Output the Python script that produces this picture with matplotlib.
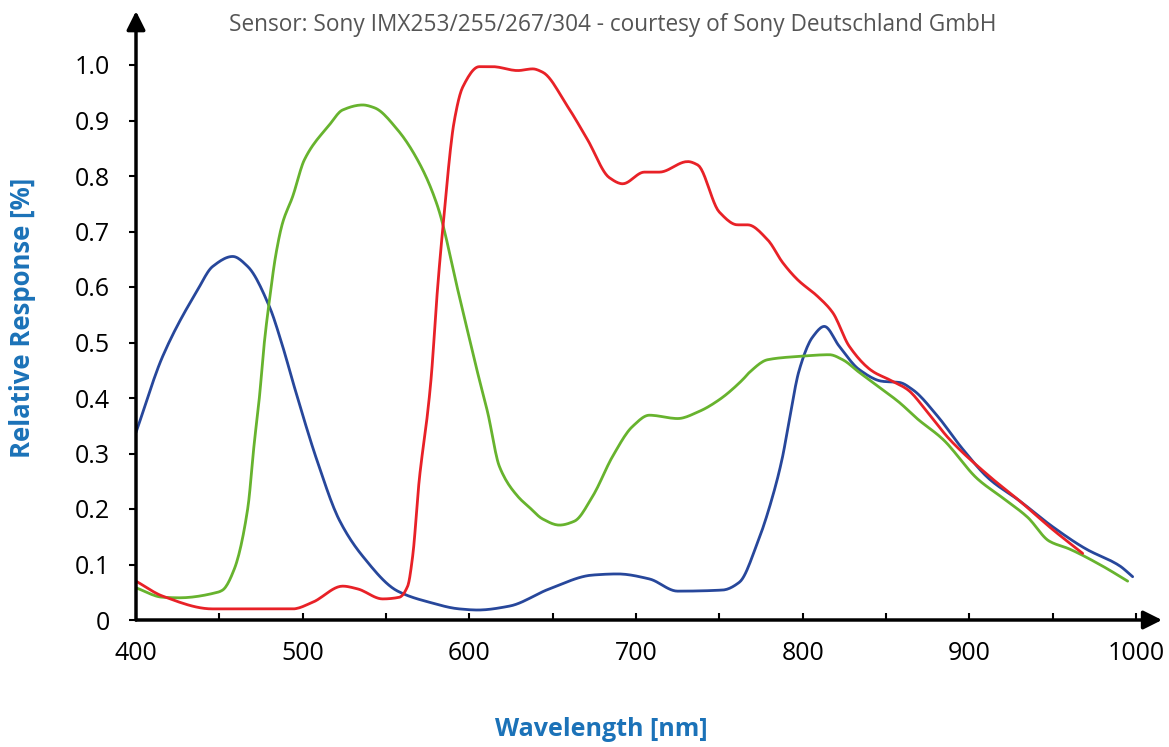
import numpy as np
import matplotlib.pyplot as plt

# wavelength [nm] / relative response
blue_wl = [400, 416, 437, 446, 458, 467, 480, 488, 495, 509, 522, 536, 557, 576, 594,
           605, 624, 648, 674, 689, 708, 725, 752, 762, 773, 782, 788, 791, 798, 806,
           813, 822, 834, 848, 858, 866, 881, 896, 912, 930, 950, 970, 990, 998]
blue_val = [0.338, 0.475, 0.595, 0.637, 0.655, 0.637, 0.565, 0.493, 0.42, 0.284, 0.18, 0.115,
            0.052, 0.032, 0.02, 0.018, 0.025, 0.056, 0.081, 0.083, 0.074, 0.052, 0.054, 0.068,
            0.14, 0.223, 0.295, 0.344, 0.451, 0.51, 0.529, 0.493, 0.451, 0.43, 0.428, 0.415,
            0.367, 0.308, 0.254, 0.215, 0.168, 0.128, 0.098, 0.078]

green_wl = [400, 416, 426, 449, 452, 459, 467, 471, 474, 477, 480, 484, 488, 494, 501, 516,
            524, 536, 543, 557, 570, 581, 594, 606, 611, 618, 629, 636, 644, 654, 663, 674,
            686, 698, 708, 725, 738, 750, 764, 768, 779, 798, 816, 824, 834, 848, 858, 869,
            884, 905, 920, 935, 948, 960, 980, 995]
green_val = [0.058, 0.041, 0.04, 0.05, 0.054, 0.092, 0.2, 0.32, 0.4, 0.5, 0.575, 0.66, 0.716,
             0.763, 0.829, 0.892, 0.919, 0.928, 0.923, 0.883, 0.823, 0.745, 0.583, 0.433,
             0.374, 0.277, 0.223, 0.203, 0.182, 0.171, 0.178, 0.223, 0.295, 0.349, 0.369,
             0.363, 0.376, 0.397, 0.433, 0.446, 0.469, 0.475, 0.478, 0.469, 0.446, 0.415,
             0.392, 0.362, 0.326, 0.254, 0.22, 0.185, 0.142, 0.128, 0.097, 0.07]

red_wl = [400, 416, 446, 494, 506, 524, 533, 548, 558, 563, 566, 570, 575, 577, 581, 584,
          591, 596, 606, 614, 629, 638, 644, 659, 671, 684, 692, 705, 714, 731, 737, 750,
          761, 767, 779, 788, 797, 809, 818, 828, 842, 852, 863, 875, 888, 912, 930, 950, 968]
red_val = [0.07, 0.043, 0.02, 0.02, 0.032, 0.061, 0.056, 0.038, 0.041, 0.061, 0.115, 0.254,
           0.374, 0.433, 0.6, 0.703, 0.9, 0.96, 0.997, 0.997, 0.99, 0.993, 0.987, 0.925, 0.865,
           0.797, 0.786, 0.807, 0.807, 0.826, 0.82, 0.735, 0.712, 0.712, 0.685, 0.644, 0.613,
           0.583, 0.554, 0.493, 0.448, 0.433, 0.415, 0.374, 0.326, 0.259, 0.215, 0.163, 0.12]

y_ticks = [0, 0.1, 0.2, 0.3, 0.4, 0.5, 0.6, 0.7, 0.8, 0.9, 1.0]
y_labels = ['0', '0.1', '0.2', '0.3', '0.4', '0.5', '0.6', '0.7', '0.8', '0.9', '1.0']
x_ticks = [400, 500, 600, 700, 800, 900, 1000]


# pchip style smoothing, only to draw the read points as a smooth line
def smooth(x, y, n=12):
    x = np.asarray(x, float)
    y = np.asarray(y, float)
    h = np.diff(x)
    d = np.diff(y) / h
    m = np.zeros_like(y)
    for i in range(1, len(y) - 1):
        if d[i - 1] * d[i] > 0:
            w1 = 2 * h[i] + h[i - 1]
            w2 = h[i] + 2 * h[i - 1]
            m[i] = (w1 + w2) / (w1 / d[i - 1] + w2 / d[i])
    m[0] = d[0]
    m[-1] = d[-1]
    xs, ys = [], []
    for i in range(len(h)):
        t = np.linspace(0, 1, n, endpoint=False)
        h00 = 2 * t**3 - 3 * t**2 + 1
        h10 = t**3 - 2 * t**2 + t
        h01 = -2 * t**3 + 3 * t**2
        h11 = t**3 - t**2
        xs.append(x[i] + t * h[i])
        ys.append(h00 * y[i] + h10 * h[i] * m[i] + h01 * y[i + 1] + h11 * h[i] * m[i + 1])
    xs.append([x[-1]])
    ys.append([y[-1]])
    return np.concatenate(xs), np.concatenate(ys)


plt.rcParams['font.family'] = ['Open Sans', 'DejaVu Sans']

fig = plt.figure(figsize=(11.69, 7.47), dpi=100)
ax = fig.add_axes([136 / 1169, 127 / 747, 1000 / 1169, 555 / 747])

for wl, val, col in [(blue_wl, blue_val, '#27479b'),
                     (green_wl, green_val, '#67b32e'),
                     (red_wl, red_val, '#e82127')]:
    sx, sy = smooth(wl, val)
    ax.plot(sx, sy, color=col, lw=2, solid_joinstyle='round', solid_capstyle='round')

ax.set_xlim(400, 1000)
ax.set_ylim(0, 1)
for s in ax.spines.values():
    s.set_visible(False)

# axis lines with arrow heads
ax.annotate('', xy=(1.026, 0), xytext=(0, 0), xycoords='axes fraction',
            arrowprops=dict(arrowstyle='-|>', lw=2.5, color='black', mutation_scale=28,
                            shrinkA=0, shrinkB=0))
ax.annotate('', xy=(0, 1.097), xytext=(0, 0), xycoords='axes fraction',
            arrowprops=dict(arrowstyle='-|>', lw=2.5, color='black', mutation_scale=28,
                            shrinkA=0, shrinkB=0))

ax.set_yticks(y_ticks)
ax.set_yticklabels(y_labels)
ax.set_xticks(x_ticks)
ax.set_xticks([450, 550, 650, 750, 850, 950], minor=True)
ax.tick_params(axis='y', direction='out', length=5, width=1.5, pad=14, labelsize=18)
ax.tick_params(axis='x', which='both', direction='in', length=5, width=1.5, pad=15, labelsize=18)

fig.text(601 / 1169, 1 - 730 / 747, 'Wavelength [nm]', color='#1b72b8', fontsize=18,
         fontweight='bold', ha='center', va='center')
fig.text(23 / 1169, 1 - 318 / 747, 'Relative Response [%]', color='#1b72b8', fontsize=18.5,
         fontweight='bold', ha='center', va='center', rotation=90)

fig.text(613 / 1169, 1 - 25 / 747, 'Sensor: Sony IMX253/255/267/304 - courtesy of Sony Deutschland GmbH',
         ha='center', va='center', fontsize=16.3, color='#555555')

fig.savefig('out.png', dpi=100)
